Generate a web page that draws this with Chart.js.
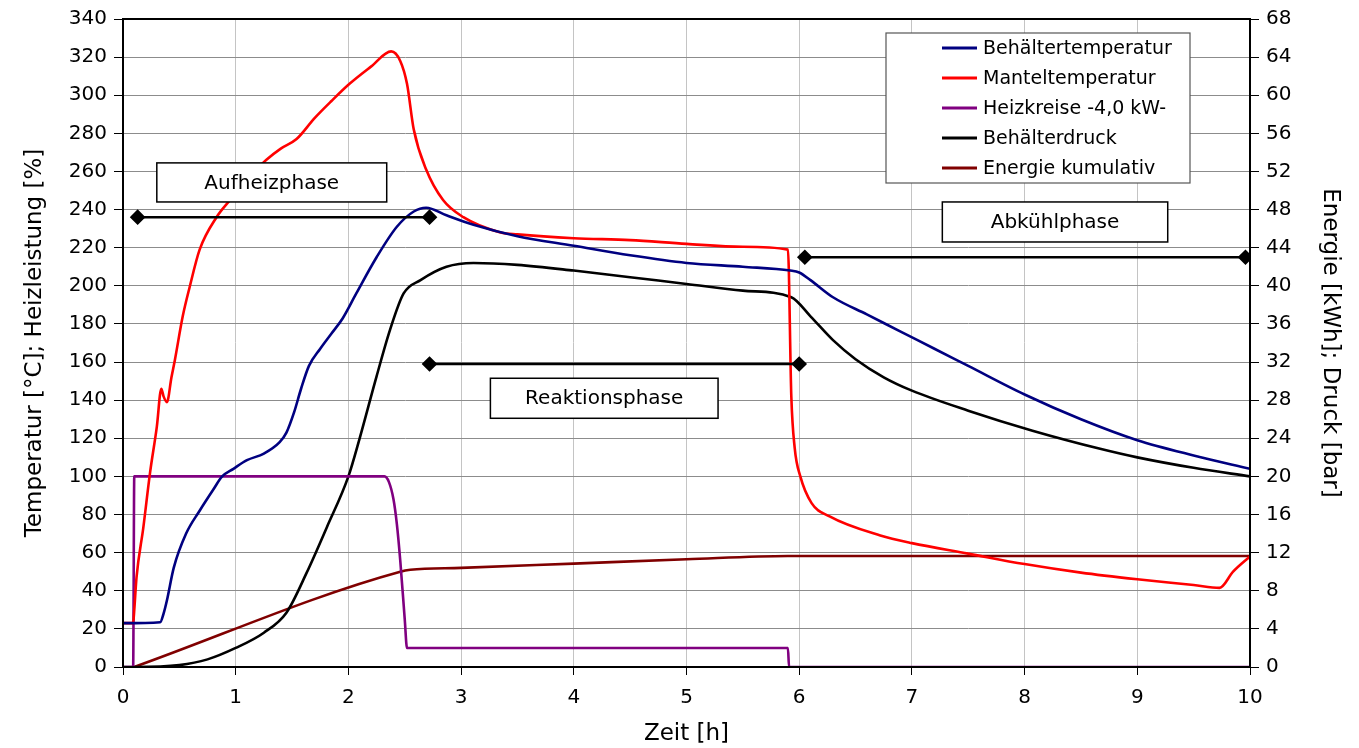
<!DOCTYPE html>
<html lang="de">
<head>
<meta charset="UTF-8">
<title>Behälterversuch</title>
<script src="https://cdn.jsdelivr.net/npm/chart.js"></script>
<style>
  html, body { margin: 0; padding: 0; background: #fff; }
  #wrap { width: 1359px; height: 748px; }
</style>
</head>
<body>
<div id="wrap"><canvas id="myChart"></canvas></div>
<script>
const behTempX = [0, 0.33, 0.36, 0.39, 0.45, 0.56, 0.68, 0.8, 0.88, 0.98, 1.1, 1.25, 1.39, 1.45, 1.52, 1.58, 1.65, 1.75, 1.85, 1.95, 2.07, 2.25, 2.43, 2.58, 2.69, 2.87, 3.11, 3.5, 4.0, 4.5, 5.0, 5.5, 5.92, 6.0, 6.1, 6.3, 6.6, 6.9, 7.2, 7.5, 8.0, 8.5, 9.0, 9.5, 10];
const behTempY = [23, 23.5, 28, 35, 52, 70, 82, 93, 100, 104, 108.5, 112, 118, 123, 134, 146, 158, 167, 175, 183, 196, 215, 231, 239, 241, 237, 232, 226, 221, 216, 212, 210, 208, 207, 203, 194, 185, 176, 167, 158, 143, 130, 119, 111, 104];

const mantelX = [0, 0.09, 0.1, 0.12, 0.18, 0.24, 0.30, 0.34, 0.36, 0.39, 0.43, 0.46, 0.53, 0.59, 0.68, 0.83, 0.95, 1.1, 1.27, 1.4, 1.54, 1.7, 1.85, 2.01, 2.2, 2.38, 2.46, 2.52, 2.58, 2.69, 2.84, 3.02, 3.35, 3.5, 4.0, 4.5, 5.0, 5.5, 5.9, 5.93, 5.96, 6.01, 6.11, 6.27, 6.72, 7.0, 7.5, 8.0, 8.5, 9.0, 9.5, 9.73, 9.85, 10];
const mantelY = [23, 23, 30, 47, 73, 102, 126, 146, 142, 139, 152, 161, 184, 199, 219, 236, 245, 256, 266, 272, 277, 288, 297, 306, 315, 323, 318, 306, 282, 261, 245, 236, 228, 227, 225, 224, 222, 220.5, 219, 142, 115, 100, 86, 79, 69, 65, 59.5, 54, 49.5, 46, 43, 41.5, 50, 58];

const heizX = [0, 0.09, 0.1, 2.32, 2.36, 2.4, 2.43, 2.46, 2.5, 2.52, 5.9, 5.91, 10];
const heizY = [0, 0, 100, 100, 97, 88, 75, 56, 25, 10, 10, 0, 0];

// Druck [bar], rechte Achse
const druckX = [0, 0.1, 0.5, 0.75, 1.0, 1.25, 1.45, 1.63, 1.81, 2.0, 2.1, 2.25, 2.37, 2.49, 2.64, 2.87, 3.11, 3.5, 4.0, 4.5, 5.0, 5.5, 5.93, 6.1, 6.3, 6.5, 6.75, 7.0, 7.5, 8.07, 8.67, 9.0, 9.5, 10];
const druckY = [0, 0, 0.2, 0.8, 2.0, 3.6, 5.7, 9.9, 14.7, 20, 24, 30.5, 35.4, 39.2, 40.6, 42, 42.4, 42.2, 41.6, 40.9, 40.2, 39.5, 38.8, 36.8, 34.3, 32.3, 30.4, 29.0, 26.9, 24.8, 22.9, 22.0, 20.9, 20];

// Energie [kWh], rechte Achse
const energieX = [0.1, 2.46, 2.55, 3.0, 4.0, 5.0, 5.9, 10];
const energieY = [0, 10, 10.2, 10.4, 10.85, 11.3, 11.65, 11.65];

// Phasen-Markierungen (linke Achse)
const aufheizX = [0.13, 2.72];
const aufheizY = [236, 236];
const reaktionX = [2.72, 6.0];
const reaktionY = [159, 159];
const abkuehlX = [6.05, 9.96];
const abkuehlY = [215, 215];

function pts(xs, ys) {
    return xs.map((x, i) => ({ x: x, y: ys[i] }));
}

const FONT = '"DejaVu Sans", Arial, sans-serif';
Chart.defaults.font.family = FONT;
Chart.defaults.color = '#000';

function series(label, xs, ys, color, axis) {
    return {
        label: label,
        data: pts(xs, ys),
        borderColor: color,
        backgroundColor: color,
        borderWidth: 2.6,
        pointRadius: 0,
        cubicInterpolationMode: 'monotone',
        yAxisID: axis,
        order: 2
    };
}

function phase(xs, ys) {
    return {
        label: '',
        data: pts(xs, ys),
        borderColor: '#000',
        backgroundColor: '#000',
        borderWidth: 2.6,
        pointStyle: 'rectRot',
        pointRadius: 6,
        tension: 0,
        yAxisID: 'y',
        order: 0,
        isPhase: true
    };
}

// Textkästen der Phasen (Datenkoordinaten)
const boxes = [
    { text: 'Aufheizphase', x0: 0.30, x1: 2.34, y0: 264.5, y1: 244 },
    { text: 'Reaktionsphase', x0: 3.26, x1: 5.28, y0: 151.5, y1: 130.5 },
    { text: 'Abkühlphase', x0: 7.27, x1: 9.27, y0: 244, y1: 223 }
];

const overlay = {
    id: 'overlay',
    afterDatasetsDraw(chart) {
        const ctx = chart.ctx;
        const a = chart.chartArea;
        const xs = chart.scales.x, ys = chart.scales.y;
        ctx.save();

        // Rahmen
        ctx.strokeStyle = '#000';
        ctx.lineWidth = 2;
        ctx.strokeRect(a.left, a.top, a.right - a.left, a.bottom - a.top);

        // Phasen-Kästen
        ctx.font = '20px ' + FONT;
        ctx.textAlign = 'center';
        ctx.textBaseline = 'middle';
        boxes.forEach(b => {
            const l = xs.getPixelForValue(b.x0), r = xs.getPixelForValue(b.x1);
            const t = ys.getPixelForValue(b.y0), btm = ys.getPixelForValue(b.y1);
            ctx.fillStyle = '#fff';
            ctx.fillRect(l, t, r - l, btm - t);
            ctx.lineWidth = 1.5;
            ctx.strokeStyle = '#000';
            ctx.strokeRect(l, t, r - l, btm - t);
            ctx.fillStyle = '#000';
            ctx.fillText(b.text, (l + r) / 2, (t + btm) / 2 + 1);
        });

        // Legende
        const lx = a.right - 364, ly = a.top + 14, lw = 304, lh = 150;
        ctx.fillStyle = '#fff';
        ctx.fillRect(lx, ly, lw, lh);
        ctx.lineWidth = 1.2;
        ctx.strokeStyle = '#555';
        ctx.strokeRect(lx, ly, lw, lh);
        ctx.font = '19px ' + FONT;
        ctx.textAlign = 'left';
        let row = 0;
        chart.data.datasets.forEach(ds => {
            if (ds.isPhase) return;
            const yy = ly + 15 + row * 30;
            ctx.strokeStyle = ds.borderColor;
            ctx.lineWidth = 3;
            ctx.beginPath();
            ctx.moveTo(lx + 56, yy);
            ctx.lineTo(lx + 91, yy);
            ctx.stroke();
            ctx.fillStyle = '#000';
            ctx.fillText(ds.label, lx + 97, yy + 1);
            row++;
        });
        ctx.restore();
    }
};

const ctx = document.getElementById('myChart').getContext('2d');
const myChart = new Chart(ctx, {
    type: 'line',
    data: {
        datasets: [
            series('Behältertemperatur', behTempX, behTempY, '#000080', 'y'),
            series('Manteltemperatur', mantelX, mantelY, '#ff0000', 'y'),
            series('Heizkreise -4,0 kW-', heizX, heizY, '#800080', 'y'),
            series('Behälterdruck', druckX, druckY, '#000000', 'y2'),
            series('Energie kumulativ', energieX, energieY, '#800000', 'y2'),
            phase(aufheizX, aufheizY),
            phase(reaktionX, reaktionY),
            phase(abkuehlX, abkuehlY)
        ]
    },
    options: {
        responsive: true,
        maintainAspectRatio: false,
        animation: false,
        layout: { padding: { top: 19, left: 0, right: 0, bottom: 0 } },
        plugins: {
            legend: { display: false },
            tooltip: { enabled: false }
        },
        scales: {
            x: {
                type: 'linear',
                min: 0,
                max: 10,
                ticks: {
                    stepSize: 0.5,
                    autoSkip: false,
                    maxRotation: 0,
                    padding: 11,
                    font: { size: 20 },
                    callback: v => Number.isInteger(v) ? v : null
                },
                grid: {
                    color: c => Number.isInteger(c.tick.value) ? '#c4c4c4' : 'rgba(0,0,0,0)',
                    tickColor: '#000',
                    tickLength: 8
                },
                border: { color: '#000', width: 2 },
                title: {
                    display: true,
                    text: 'Zeit [h]',
                    font: { size: 23 },
                    padding: { top: 0, bottom: 0 }
                },
                afterFit: s => { s.height = 81; }
            },
            y: {
                position: 'left',
                min: 0,
                max: 340,
                ticks: {
                    stepSize: 10,
                    autoSkip: false,
                    padding: 7,
                    font: { size: 20 },
                    callback: v => v % 20 === 0 ? v : null
                },
                grid: {
                    color: c => c.tick.value % 20 === 0 ? '#8c8c8c' : '#d2d2d2',
                    tickColor: c => c.tick.value % 20 === 0 ? '#000' : 'rgba(0,0,0,0)',
                    tickLength: 9
                },
                border: { color: '#000', width: 2 },
                title: {
                    display: true,
                    text: 'Temperatur [°C]; Heizleistung [%]',
                    font: { size: 23 },
                    padding: { top: 21, bottom: 0 }
                },
                afterFit: s => { s.width = 123; }
            },
            y2: {
                position: 'right',
                min: 0,
                max: 68,
                ticks: {
                    stepSize: 4,
                    autoSkip: false,
                    padding: 7,
                    font: { size: 20 }
                },
                grid: {
                    drawOnChartArea: false,
                    tickColor: '#000',
                    tickLength: 9
                },
                border: { color: '#000', width: 2 },
                title: {
                    display: true,
                    text: 'Energie [kWh]; Druck [bar]',
                    font: { size: 23 },
                    padding: { top: 15, bottom: 0 }
                },
                afterFit: s => { s.width = 109; }
            }
        }
    },
    plugins: [overlay]
});
</script>
</body>
</html>
